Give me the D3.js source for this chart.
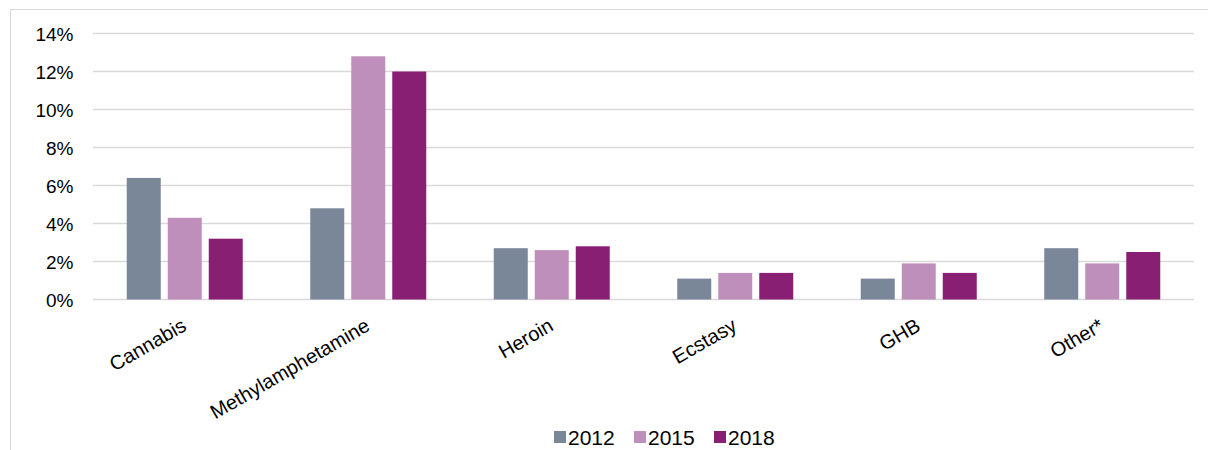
<!DOCTYPE html>
<html>
<head>
<meta charset="utf-8">
<script src="https://cdn.jsdelivr.net/npm/d3@7/dist/d3.min.js"></script>
<style>
  html, body { margin: 0; padding: 0; background: #fff; }
  svg { display: block; font-family: "Liberation Sans", Arial, sans-serif; }
</style>
</head>
<body>
<svg id="chart" width="1208" height="450"></svg>
<script>
// Drug use share by substance, three survey years
const categories = ["Cannabis", "Methylamphetamine", "Heroin", "Ecstasy", "GHB", "Other*"];
const years = ["2012", "2015", "2018"];
const values2012 = [6.4, 4.8, 2.7, 1.1, 1.1, 2.7];
const values2015 = [4.3, 12.8, 2.6, 1.4, 1.9, 1.9];
const values2018 = [3.2, 12.0, 2.8, 1.4, 1.4, 2.5];
const yTicks = [0, 2, 4, 6, 8, 10, 12, 14];
const colors = ["#7a8799", "#be8fba", "#891f73"];

const seriesValues = [values2012, values2015, values2018];

const svg = d3.select("#chart");
const W = 1208, H = 450;

// outer frame
svg.append("rect")
  .attr("x", 10.5).attr("y", 9.5)
  .attr("width", W).attr("height", H)
  .attr("fill", "none").attr("stroke", "#d9d9d9").attr("stroke-width", 1);

const plot = { left: 93, right: 1194, top: 33.5, bottom: 299.5 };

const x = d3.scaleBand().domain(categories).range([plot.left, plot.right]);
const y = d3.scaleLinear().domain([0, 14]).range([plot.bottom, plot.top]);

const barW = 34, gap = 7;
const groupW = barW * 3 + gap * 2;
const xSub = d3.scaleBand().domain(years).range([0, groupW]).paddingInner(gap / (barW + gap));

// gridlines
svg.append("g")
  .selectAll("line").data(yTicks).join("line")
  .attr("x1", plot.left).attr("x2", plot.right)
  .attr("y1", d => y(d)).attr("y2", d => y(d))
  .attr("stroke", "#d9d9d9").attr("stroke-width", 1.3);

// y axis labels
const yAxis = d3.axisLeft(y).tickValues(yTicks).tickFormat(d => d + "%").tickSize(0).tickPadding(0);
const gy = svg.append("g").attr("transform", `translate(${73.5},0)`).call(yAxis);
gy.select(".domain").remove();
gy.selectAll("text")
  .attr("font-size", 19).attr("fill", "#000")
  .attr("font-family", "Liberation Sans, Arial, sans-serif")
  .attr("dy", "0.35em");

// bars
const groups = svg.append("g").selectAll("g").data(categories).join("g")
  .attr("transform", d => `translate(${x(d) + x.bandwidth() / 2 - groupW / 2},0)`);

groups.selectAll("rect")
  .data((d, i) => years.map((yr, s) => ({ yr, v: seriesValues[s][i], s })))
  .join("rect")
  .attr("x", d => xSub(d.yr))
  .attr("width", xSub.bandwidth())
  .attr("y", d => y(d.v))
  .attr("height", d => y(0) - y(d.v))
  .attr("fill", d => colors[d.s]);

// category labels, rotated
const xAxis = d3.axisBottom(x).tickSize(0).tickPadding(0);
const gx = svg.append("g").attr("transform", `translate(0,${plot.bottom})`).call(xAxis);
gx.select(".domain").remove();
gx.selectAll("text")
  .attr("font-size", 20).attr("fill", "#000")
  .attr("font-family", "Liberation Sans, Arial, sans-serif")
  .attr("text-anchor", "end")
  .attr("dy", null)
  .attr("y", 0)
  .attr("transform", "translate(3,30) rotate(-30)");

// legend
const legend = svg.append("g").attr("transform", "translate(554,437)");
const legendStep = 80;
years.forEach((yr, i) => {
  const g = legend.append("g").attr("transform", `translate(${i * legendStep},0)`);
  g.append("rect").attr("x", 0).attr("y", -6).attr("width", 12).attr("height", 12).attr("fill", colors[i]);
  g.append("text").attr("x", 14).attr("y", 0).attr("dy", "0.36em")
    .attr("font-size", 21).attr("fill", "#000").text(yr);
});
</script>
</body>
</html>
